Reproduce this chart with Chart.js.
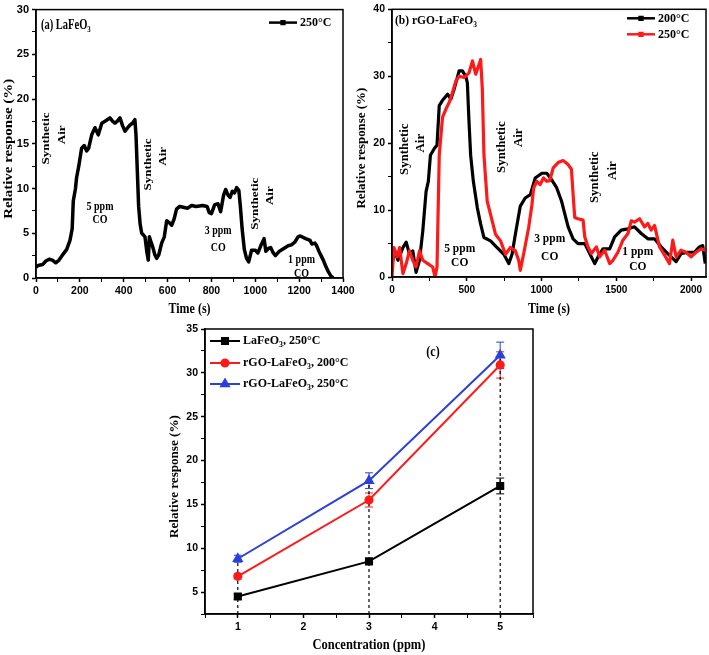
<!DOCTYPE html>
<html>
<head>
<meta charset="utf-8">
<script src="https://cdn.jsdelivr.net/npm/chart.js@4.4.1/dist/chart.umd.min.js"></script>
<style>
    html, body { margin: 0; padding: 0; background: #fff; }
    #wrap { position: relative; width: 709px; height: 655px; overflow: hidden; }
    canvas { position: absolute; }
</style>
</head>
<body>
<div id="wrap">
    <canvas id="chartA" width="360" height="320" style="left:0;top:0"></canvas>
    <canvas id="chartB" width="359" height="320" style="left:350px;top:0"></canvas>
    <canvas id="chartC" width="400" height="340" style="left:150px;top:315px"></canvas>
</div>
<script>
// (a) LaFeO3 at 250°C
const timeA = [0, 10, 30, 45, 60, 75, 90, 105, 125, 140, 155, 165, 170, 180, 185, 195, 208, 220, 231, 240,
    254, 269, 284, 300, 320, 337, 350, 360, 370, 383, 395, 406, 418, 429, 440, 451, 456, 462, 468, 475,
    482, 490, 497, 505, 512, 517, 525, 532, 542, 550, 560, 573, 585, 596, 607, 619, 630, 641, 655, 672,
    690, 710, 730, 760, 780, 790, 800, 815, 830, 842, 855, 865, 875, 885, 895, 905, 915, 925, 932, 940,
    950, 960, 970, 983, 1000, 1012, 1025, 1040, 1048, 1060, 1070, 1082, 1092, 1110, 1130, 1150, 1165, 1180, 1195, 1205,
    1230, 1250, 1258, 1272, 1280, 1290, 1300, 1310, 1320, 1333, 1345, 1356];
const respA = [1.2, 1.4, 1.5, 1.9, 2.1, 2.0, 1.7, 2.0, 2.7, 3.2, 4.2, 5.5, 8.6, 10.0, 11.2, 12.5, 14.5, 14.8, 14.2, 14.5,
    16.0, 16.8, 16.0, 17.3, 17.6, 17.9, 17.5, 17.3, 17.5, 17.9, 17.0, 16.4, 16.8, 17.1, 17.3, 17.7, 16.0, 12.0, 8.0, 6.0,
    5.0, 4.8, 4.6, 3.0, 2.0, 4.6, 4.0, 3.5, 2.6, 2.2, 2.6, 3.9, 4.6, 6.4, 6.2, 5.9, 6.6, 7.7, 8.0, 7.9,
    7.8, 8.1, 8.0, 8.1, 8.0, 7.3, 7.2, 8.2, 8.3, 7.4, 9.2, 9.9, 9.3, 9.0, 9.7, 9.5, 10.1, 9.8, 8.0, 5.5,
    3.2, 2.2, 1.8, 3.1, 3.1, 2.8, 3.6, 4.4, 3.0, 3.3, 3.4, 2.8, 2.5, 3.0, 3.3, 3.6, 3.7, 4.0, 4.6, 4.7,
    4.4, 4.2, 3.8, 3.9, 3.6, 3.0, 2.5, 2.0, 1.4, 0.7, 0.2, 0.0];

// (b) rGO-LaFeO3 at 200°C and 250°C
const timeB200 = [0, 18, 40, 73, 95, 117, 139, 161, 184, 206, 228, 243, 257, 283, 301, 316, 338, 372, 394, 416,
    449, 471, 493, 504, 515, 526, 544, 571, 593, 615, 659, 703, 748, 781, 803, 825, 858, 891, 925, 958,
    1002, 1035, 1066, 1100, 1133, 1156, 1178, 1211, 1244, 1289, 1322, 1356, 1378, 1411, 1456, 1489, 1533, 1578, 1622, 1667,
    1711, 1756, 1800, 1844, 1900, 1933, 1978, 2022, 2056, 2078, 2095];
const resp200 = [2.0, 3.9, 2.5, 4.4, 5.2, 3.4, 3.9, 0.7, 2.5, 6.9, 12.8, 14.3, 18.2, 19.2, 19.7, 25.6, 26.4, 27.3, 26.6, 28.1,
    30.8, 30.8, 30.0, 29.0, 23.2, 18.2, 14.3, 10.3, 7.9, 5.9, 5.4, 4.4, 3.4, 2.0, 3.4, 6.4, 10.6, 11.8, 12.3, 14.8,
    15.5, 15.5, 14.6, 13.4, 11.4, 9.4, 7.5, 5.7, 5.0, 5.0, 3.5, 2.0, 3.0, 4.2, 4.2, 6.0, 7.0, 7.2, 7.5, 6.5,
    5.7, 5.7, 4.5, 3.5, 2.3, 3.5, 3.7, 3.7, 4.5, 4.7, 2.0];
const timeB250 = [0, 13, 35, 51, 73, 95, 117, 139, 161, 184, 206, 239, 272, 288, 301, 316, 338, 361, 383, 405,
    427, 449, 482, 515, 538, 560, 593, 604, 615, 637, 670, 692, 726, 759, 792, 825, 847, 858, 880, 914,
    936, 947, 969, 991, 1013, 1035, 1055, 1078, 1111, 1144, 1178, 1200, 1211, 1222, 1244, 1278, 1289, 1311, 1333, 1367,
    1389, 1422, 1456, 1478, 1511, 1544, 1578, 1600, 1622, 1656, 1689, 1711, 1733, 1756, 1789, 1822, 1856, 1878, 1900, 1933,
    1967, 2000, 2033, 2067, 2095];
const resp250 = [0.0, 4.4, 3.0, 4.4, 0.5, 2.0, 3.9, 2.5, 1.5, 3.9, 2.5, 2.0, 1.5, 0.0, 1.5, 18.2, 23.9, 25.1, 26.1, 27.6,
    29.3, 30.0, 29.8, 30.5, 32.3, 30.3, 32.5, 28.1, 18.2, 11.3, 8.4, 6.4, 5.4, 3.4, 4.4, 3.9, 2.5, 1.0, 3.4, 7.4,
    10.8, 13.3, 14.3, 13.8, 14.8, 14.3, 14.4, 16.3, 17.1, 17.4, 16.8, 16.1, 12.4, 8.9, 8.7, 8.5, 6.0, 4.5, 3.5, 4.5,
    3.0, 4.0, 2.0, 2.5, 3.7, 5.5, 6.5, 8.4, 8.2, 8.7, 7.5, 8.0, 7.0, 7.7, 4.5, 3.3, 2.0, 5.5, 3.0, 4.0,
    3.7, 3.0, 3.7, 4.2, 4.0];

// (c) response vs concentration
const concentrations = [1, 3, 5];
const laFeO3_250 = [4.5, 8.5, 17.1];
const laFeO3_250Err = [0.3, 0.3, 0.9];
const rgo_200 = [6.8, 15.5, 30.9];
const rgo_200Err = [0.3, 0.8, 1.5];
const rgo_250 = [8.8, 17.7, 32.0];
const rgo_250Err = [0.4, 0.9, 1.5];

const SERIF = '"Liberation Serif", "Times New Roman", serif';
const SANS = '"Liberation Sans", Arial, sans-serif';
const RED = "#ff1a1a";
const BLUE = "#2a3fdc";

function toPoints(xs, ys) {
    return xs.map((x, i) => ({ x: x, y: ys[i] }));
}

// text with {..} parts as subscript, optionally rotated, stretched vertically like the figure
function drawText(ctx, str, x, y, size, o) {
    o = o || {};
    const parts = [];
    str.split(/(\{[^}]*\})/).forEach(p => {
        if (!p) return;
        if (p[0] === "{") parts.push({ t: p.slice(1, -1), sub: true });
        else parts.push({ t: p, sub: false });
    });
    ctx.save();
    ctx.fillStyle = "#000";
    ctx.textBaseline = "middle";
    ctx.textAlign = "left";
    let w = 0;
    parts.forEach(p => {
        ctx.font = "bold " + (p.sub ? size * 0.65 : size) + "px " + SERIF;
        p.w = ctx.measureText(p.t).width;
        w += p.w;
    });
    ctx.translate(x, y);
    ctx.scale(1, o.stretch || 1);
    if (o.rotate) ctx.rotate(-Math.PI / 2);
    let cx = o.align === "left" ? 0 : -w / 2;
    parts.forEach(p => {
        ctx.font = "bold " + (p.sub ? size * 0.65 : size) + "px " + SERIF;
        ctx.fillText(p.t, cx, p.sub ? size * 0.32 : 0);
        cx += p.w;
    });
    ctx.restore();
}

const figurePlugin = {
    id: "figure",
    beforeDatasetsDraw(chart, args, opts) {
        // error bars
        const ctx = chart.ctx;
        chart.data.datasets.forEach((ds, di) => {
            if (!ds.errors) return;
            ctx.save();
            ctx.strokeStyle = ds.borderColor;
            ctx.lineWidth = 1;
            ds.data.forEach((p, i) => {
                const px = chart.scales.x.getPixelForValue(p.x);
                const top = chart.scales.y.getPixelForValue(p.y + ds.errors[i]);
                const bot = chart.scales.y.getPixelForValue(p.y - ds.errors[i]);
                ctx.beginPath();
                ctx.moveTo(px, top); ctx.lineTo(px, bot);
                ctx.moveTo(px - 4, top); ctx.lineTo(px + 4, top);
                ctx.moveTo(px - 4, bot); ctx.lineTo(px + 4, bot);
                ctx.stroke();
            });
            ctx.restore();
        });
    },
    afterDatasetsDraw(chart, args, opts) {
        const ctx = chart.ctx;
        const a = chart.chartArea;
        const xs = chart.scales.x;
        const ys = chart.scales.y;

        ctx.save();
        ctx.strokeStyle = "#000";
        ctx.lineWidth = 1.5;
        ctx.strokeRect(a.left, a.top, a.right - a.left, a.bottom - a.top);
        ctx.restore();

        drawText(ctx, opts.xTitle, (a.left + a.right) / 2, a.bottom + opts.xTitleGap, opts.xTitleSize, { stretch: 1.2 });
        drawText(ctx, opts.yTitle, a.left - opts.yTitleGap, (a.top + a.bottom) / 2 + 5, opts.yTitleSize,
            { rotate: true, stretch: opts.stretch });

        (opts.notes || []).forEach(n => {
            const px = n.t !== undefined ? xs.getPixelForValue(n.t) : a.left + n.dx;
            const py = n.v !== undefined ? ys.getPixelForValue(n.v) : a.top + n.dy;
            drawText(ctx, n.s, px, py, n.size || opts.noteSize,
                { rotate: n.rotate, align: n.align, stretch: opts.stretch });
        });

        (opts.legend || []).forEach(l => {
            const ds = chart.data.datasets[l.dataset];
            const x0 = a.left + l.dx;
            const y0 = a.top + l.dy;
            ctx.save();
            ctx.strokeStyle = ds.borderColor;
            ctx.fillStyle = ds.borderColor;
            ctx.lineWidth = l.lineWidth || ds.borderWidth;
            ctx.beginPath();
            ctx.moveTo(x0, y0);
            ctx.lineTo(x0 + l.len, y0);
            ctx.stroke();
            Chart.helpers.drawPoint(ctx, { pointStyle: l.marker || "rect", radius: l.radius || 2.5, rotation: 0, borderWidth: 1 },
                x0 + l.len / 2, y0);
            ctx.restore();
            drawText(ctx, l.s, x0 + l.len + 3, y0, l.size, { align: "left", stretch: 1.1 });
        });
    }
};

function axis(min, max, step, labelEvery, fit, isX, fontSize) {
    return {
        type: "linear",
        min: min,
        max: max,
        ticks: {
            stepSize: step,
            includeBounds: false,
            autoSkip: false,
            maxRotation: 0,
            padding: 3,
            color: "#000",
            font: { family: SANS, weight: "bold", size: fontSize || 10 },
            callback: v => (Math.abs(v / labelEvery - Math.round(v / labelEvery)) < 1e-6 ? v : "")
        },
        grid: {
            drawOnChartArea: false,
            tickLength: 4,
            tickColor: "#000",
            tickWidth: c => (Math.abs(c.tick.value / labelEvery - Math.round(c.tick.value / labelEvery)) < 1e-6 ? 1.5 : 1)
        },
        border: { color: "#000", width: 1.5 },
        afterFit: s => {
            if (isX) s.height = fit;
            else s.width = fit;
        }
    };
}

const common = {
    responsive: false,
    animation: false,
    devicePixelRatio: 1,
    elements: { line: { tension: 0 } }
};

const chartA = new Chart(document.getElementById("chartA"), {
    type: "line",
    data: {
        datasets: [{
            label: "250°C",
            data: toPoints(timeA, respA),
            borderColor: "#000",
            backgroundColor: "#000",
            borderWidth: 3.5,
            pointRadius: 0,
            borderJoinStyle: "round"
        }]
    },
    options: Object.assign({}, common, {
        layout: { padding: { top: 7, right: 17, left: 0, bottom: 0 } },
        scales: {
            x: axis(0, 1400, 100, 200, 42, true, 10.5),
            y: axis(0, 30, 2.5, 5, 36, false, 11)
        },
        plugins: {
            legend: { display: false },
            tooltip: { enabled: false },
            figure: {
                xTitle: "Time (s)", xTitleGap: 31, xTitleSize: 12,
                yTitle: "Relative response (%)", yTitleGap: 27, yTitleSize: 11.5,
                stretch: 1.3, noteSize: 10,
                notes: [
                    { s: "(a) LaFeO{3}", dx: 5, dy: 16, align: "left", size: 10.5 },
                    { s: "Synthetic", t: 49, v: 15.6, rotate: true },
                    { s: "Air", t: 120, v: 16.0, rotate: true },
                    { s: "5 ppm", t: 292, v: 8.0 },
                    { s: "CO", t: 292, v: 6.5 },
                    { s: "Synthetic", t: 512, v: 12.7, rotate: true },
                    { s: "Air", t: 581, v: 13.6, rotate: true },
                    { s: "3 ppm", t: 831, v: 5.3 },
                    { s: "CO", t: 831, v: 3.4 },
                    { s: "Synthetic", t: 999, v: 8.3, rotate: true },
                    { s: "Air", t: 1071, v: 9.2, rotate: true },
                    { s: "1 ppm", t: 1211, v: 2.1 },
                    { s: "CO", t: 1211, v: 0.5 }
                ],
                legend: [{ dataset: 0, s: "250°C", dx: 233, dy: 13, len: 28, size: 12, lineWidth: 2.5, radius: 2 }]
            }
        }
    }),
    plugins: [figurePlugin]
});

const chartB = new Chart(document.getElementById("chartB"), {
    type: "line",
    data: {
        datasets: [{
            label: "200°C",
            data: toPoints(timeB200, resp200),
            borderColor: "#000",
            backgroundColor: "#000",
            borderWidth: 3.2,
            pointRadius: 0,
            borderJoinStyle: "round",
            order: 1
        }, {
            label: "250°C",
            data: toPoints(timeB250, resp250),
            borderColor: RED,
            backgroundColor: RED,
            borderWidth: 3.2,
            pointRadius: 0,
            borderJoinStyle: "round",
            order: 0
        }]
    },
    options: Object.assign({}, common, {
        layout: { padding: { top: 7, right: 3, left: 0, bottom: 0 } },
        scales: {
            x: axis(0, 2100, 250, 500, 43, true, 10),
            y: axis(0, 40, 5, 10, 42, false, 10.5)
        },
        plugins: {
            legend: { display: false },
            tooltip: { enabled: false },
            figure: {
                xTitle: "Time (s)", xTitleGap: 32, xTitleSize: 12,
                yTitle: "Relative response (%)", yTitleGap: 30, yTitleSize: 11.5,
                stretch: 1.12, noteSize: 11.5,
                notes: [
                    { s: "(b) rGO-LaFeO{3}", dx: 3, dy: 11, align: "left", size: 11.5 },
                    { s: "Synthetic", t: 87, v: 19.1, rotate: true },
                    { s: "Air", t: 193, v: 20.0, rotate: true },
                    { s: "5 ppm", t: 453, v: 4.3 },
                    { s: "CO", t: 453, v: 2.1 },
                    { s: "Synthetic", t: 737, v: 19.4, rotate: true },
                    { s: "Air", t: 849, v: 20.8, rotate: true },
                    { s: "3 ppm", t: 1055, v: 5.7 },
                    { s: "CO", t: 1055, v: 3.0 },
                    { s: "Synthetic", t: 1360, v: 14.9, rotate: true },
                    { s: "Air", t: 1478, v: 15.9, rotate: true },
                    { s: "1 ppm", t: 1644, v: 3.85 },
                    { s: "CO", t: 1644, v: 1.6 }
                ],
                legend: [
                    { dataset: 0, s: "200°C", dx: 235, dy: 9, len: 28, size: 12, lineWidth: 2.5, radius: 2 },
                    { dataset: 1, s: "250°C", dx: 235, dy: 25, len: 28, size: 12, lineWidth: 2.5, radius: 2 }
                ]
            }
        }
    }),
    plugins: [figurePlugin]
});

// dashed drop lines up to the highest series at each concentration
const yMinC = 2.5;
const dropLines = concentrations.map((c, i) => ({
    data: [{ x: c, y: yMinC }, { x: c, y: Math.max(laFeO3_250[i], rgo_200[i], rgo_250[i]) }],
    borderColor: "#000",
    borderWidth: 1.2,
    borderDash: [3, 3],
    pointRadius: 0,
    order: 5
}));

const chartC = new Chart(document.getElementById("chartC"), {
    type: "line",
    data: {
        datasets: [{
            label: "LaFeO3, 250°C",
            data: toPoints(concentrations, laFeO3_250),
            errors: laFeO3_250Err,
            borderColor: "#000",
            backgroundColor: "#000",
            borderWidth: 2,
            pointStyle: "rect",
            pointRadius: 4.3,
            order: 2
        }, {
            label: "rGO-LaFeO3, 200°C",
            data: toPoints(concentrations, rgo_200),
            errors: rgo_200Err,
            borderColor: RED,
            backgroundColor: RED,
            borderWidth: 2,
            pointStyle: "circle",
            pointRadius: 3.6,
            order: 1
        }, {
            label: "rGO-LaFeO3, 250°C",
            data: toPoints(concentrations, rgo_250),
            errors: rgo_250Err,
            borderColor: BLUE,
            backgroundColor: BLUE,
            borderWidth: 2,
            pointStyle: "triangle",
            pointRadius: 4.5,
            order: 0
        }].concat(dropLines)
    },
    options: Object.assign({}, common, {
        layout: { padding: { top: 14, right: 17, left: 0, bottom: 0 } },
        scales: {
            x: axis(0.5, 5.5, 0.5, 1, 41, true, 10.5),
            y: axis(yMinC, 35, 2.5, 5, 55, false, 10.5)
        },
        plugins: {
            legend: { display: false },
            tooltip: { enabled: false },
            figure: {
                xTitle: "Concentration (ppm)", xTitleGap: 31, xTitleSize: 12.5,
                yTitle: "Relative response (%)", yTitleGap: 30, yTitleSize: 11.5,
                stretch: 1.14, noteSize: 12,
                notes: [{ s: "(c)", dx: 228, dy: 23, size: 12 }],
                legend: [
                    { dataset: 0, s: "LaFeO{3}, 250°C", dx: 5, dy: 12, len: 30, size: 12, radius: 4.3, marker: "rect" },
                    { dataset: 1, s: "rGO-LaFeO{3}, 200°C", dx: 5, dy: 34, len: 30, size: 12, radius: 3.6, marker: "circle" },
                    { dataset: 2, s: "rGO-LaFeO{3}, 250°C", dx: 5, dy: 55, len: 30, size: 12, radius: 4.5, marker: "triangle" }
                ]
            }
        }
    }),
    plugins: [figurePlugin]
});
</script>
</body>
</html>
